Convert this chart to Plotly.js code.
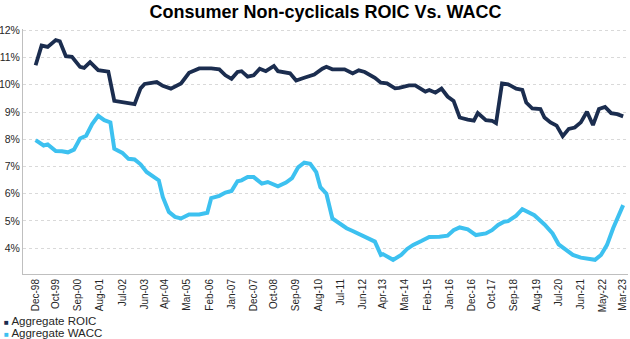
<!DOCTYPE html>
<html>
<head>
<meta charset="utf-8">
<script src="https://cdn.plot.ly/plotly-3.0.1.min.js"></script>
<style>html,body{margin:0;padding:0;background:#fff;}#chart{width:630px;height:339px;}</style>
</head>
<body>
<div id="chart"></div>
<script>
var roicDates = ["1998-12","1999-03","1999-06","1999-10","1999-12","2000-03","2000-06","2000-10","2000-12","2001-03","2001-07","2001-12","2002-03","2002-07","2003-01","2003-04","2003-06","2003-12","2004-03","2004-07","2004-10","2004-12","2005-04","2005-09","2006-03","2006-07","2006-10","2007-01","2007-04","2007-06","2007-09","2007-12","2008-03","2008-06","2008-10","2008-12","2009-06","2009-09","2010-01","2010-05","2010-06","2010-10","2010-12","2011-03","2011-09","2012-01","2012-04","2012-07","2012-12","2013-03","2013-06","2013-10","2013-12","2014-05","2014-08","2014-10","2015-01","2015-03","2015-06","2015-09","2015-12","2016-03","2016-06","2016-10","2017-01","2017-03","2017-07","2017-10","2017-12","2018-03","2018-06","2018-10","2019-01","2019-03","2019-06","2019-10","2019-12","2020-03","2020-06","2020-09","2020-12","2021-03","2021-06","2021-09","2021-12","2022-03","2022-06","2022-09","2022-12","2023-03"];
var roicValues = [10.72,11.44,11.39,11.64,11.60,11.05,11.03,10.66,10.62,10.83,10.54,10.48,9.41,9.37,9.29,9.87,10.03,10.10,9.96,9.86,9.98,10.05,10.44,10.60,10.60,10.57,10.35,10.22,10.47,10.50,10.30,10.35,10.59,10.50,10.69,10.50,10.42,10.16,10.26,10.38,10.38,10.59,10.66,10.57,10.57,10.42,10.53,10.47,10.26,10.08,10.05,9.87,9.89,9.98,9.98,9.89,9.75,9.81,9.71,9.86,9.57,9.41,8.80,8.72,8.68,8.96,8.70,8.68,8.59,10.05,10.02,9.86,9.81,9.35,9.13,9.11,8.80,8.62,8.50,8.11,8.38,8.43,8.62,9.01,8.52,9.11,9.19,8.96,8.92,8.84];

var waccDates = ["1998-12","1999-04","1999-06","1999-10","2000-01","2000-04","2000-07","2000-10","2001-01","2001-04","2001-07","2001-10","2002-01","2002-03","2002-07","2002-10","2003-01","2003-04","2003-07","2004-01","2004-03","2004-06","2004-09","2004-12","2005-04","2005-09","2006-01","2006-03","2006-07","2006-10","2007-01","2007-04","2007-06","2007-09","2007-12","2008-04","2008-07","2008-12","2009-04","2009-07","2009-10","2010-01","2010-04","2010-07","2010-09","2010-12","2011-03","2011-07","2011-10","2012-01","2012-06","2012-09","2012-12","2013-03","2013-04","2013-09","2014-01","2014-04","2014-07","2014-11","2015-03","2015-08","2015-12","2016-03","2016-06","2016-10","2017-02","2017-07","2017-10","2018-01","2018-04","2018-06","2018-10","2019-01","2019-07","2019-12","2020-04","2020-07","2020-10","2021-02","2021-06","2021-11","2022-01","2022-04","2022-07","2022-10","2023-03"];
var waccValues = [7.97,7.77,7.81,7.57,7.56,7.52,7.62,8.03,8.13,8.56,8.86,8.70,8.62,7.65,7.50,7.28,7.26,7.08,6.80,6.49,5.88,5.33,5.15,5.09,5.24,5.24,5.30,5.84,5.92,6.04,6.10,6.46,6.49,6.61,6.61,6.37,6.43,6.27,6.41,6.57,6.97,7.14,7.10,6.79,6.24,6.00,5.09,4.87,4.73,4.63,4.45,4.32,4.24,3.75,3.78,3.57,3.75,3.97,4.12,4.26,4.41,4.42,4.46,4.66,4.76,4.69,4.48,4.54,4.66,4.85,4.97,4.99,5.19,5.43,5.21,4.87,4.54,4.14,3.97,3.75,3.65,3.57,3.57,3.75,4.12,4.73,5.58];

var tickDates = ["1998-12-01","1999-10-01","2000-09-01","2001-08-01","2002-07-01","2003-06-01","2004-04-01","2005-03-01","2006-02-01","2007-01-01","2007-12-01","2008-10-01","2009-09-01","2010-08-01","2011-07-01","2012-06-01","2013-04-01","2014-03-01","2015-02-01","2016-01-01","2016-12-01","2017-10-01","2018-09-01","2019-08-01","2020-07-01","2021-06-01","2022-05-01","2023-03-01"];
var tickLabels = ["Dec-98","Oct-99","Sep-00","Aug-01","Jul-02","Jun-03","Apr-04","Mar-05","Feb-06","Jan-07","Dec-07","Oct-08","Sep-09","Aug-10","Jul-11","Jun-12","Apr-13","Mar-14","Feb-15","Jan-16","Dec-16","Oct-17","Sep-18","Aug-19","Jul-20","Jun-21","May-22","Mar-23"];
var yTicks = [4,5,6,7,8,9,10,11,12];
var yTickLabels = ["4%","5%","6%","7%","8%","9%","10%","11%","12%"];

var seriesNames = ["Aggregate ROIC","Aggregate WACC"];
var seriesColors = ["#1b2d4f","#3dc1f0"];

var FONT = "Liberation Sans, Arial, sans-serif";

var traces = [
  {x: roicDates, y: roicValues, name: seriesNames[0], type: "scatter", mode: "lines",
   line: {color: seriesColors[0], width: 3.8}, showlegend: false},
  {x: waccDates, y: waccValues, name: seriesNames[1], type: "scatter", mode: "lines",
   line: {color: seriesColors[1], width: 4}, showlegend: false}
];

var layout = {
  width: 630, height: 339,
  margin: {l: 23, r: 2, t: 29, b: 65},
  paper_bgcolor: "#ffffff", plot_bgcolor: "#ffffff",
  font: {family: FONT, color: "#262626", size: 11},
  title: {text: "<b>Consumer Non-cyclicals ROIC Vs. WACC</b>", x: 0.5, xref: "paper", xanchor: "center",
          y: 0.985, yref: "container", yanchor: "top",
          font: {family: FONT, size: 18, color: "#000000"}},
  xaxis: {type: "date", range: ["1998-05-25","2023-05-13"], tickmode: "array",
          tickvals: tickDates, ticktext: tickLabels, tickangle: -90,
          showgrid: false, showline: true, linecolor: "#bfbfbf", linewidth: 1,
          ticks: "", ticklen: 0, tickfont: {family: FONT, size: 10, color: "#262626"}, zeroline: false},
  yaxis: {range: [3.05, 12.05], tickmode: "array", tickvals: yTicks, ticktext: yTickLabels,
          showgrid: true, gridcolor: "#d9d9d9", griddash: "dot", gridwidth: 1,
          showline: true, linecolor: "#bfbfbf", linewidth: 1, ticks: "", zeroline: false,
          tickfont: {family: FONT, size: 10.5, color: "#262626"}},
  showlegend: false,
  annotations: [
    {xref: "paper", yref: "paper", x: -0.034, y: -0.19, xanchor: "left", yanchor: "middle", showarrow: false,
     text: '<span style="color:' + seriesColors[0] + ';font-size:8px">■</span> ' + seriesNames[0],
     font: {family: FONT, size: 11.5, color: "#262626"}},
    {xref: "paper", yref: "paper", x: -0.034, y: -0.24, xanchor: "left", yanchor: "middle", showarrow: false,
     text: '<span style="color:' + seriesColors[1] + ';font-size:8px">■</span> ' + seriesNames[1],
     font: {family: FONT, size: 11.5, color: "#262626"}}
  ]
};

Plotly.newPlot("chart", traces, layout, {displayModeBar: false, staticPlot: true});
</script>
</body>
</html>
